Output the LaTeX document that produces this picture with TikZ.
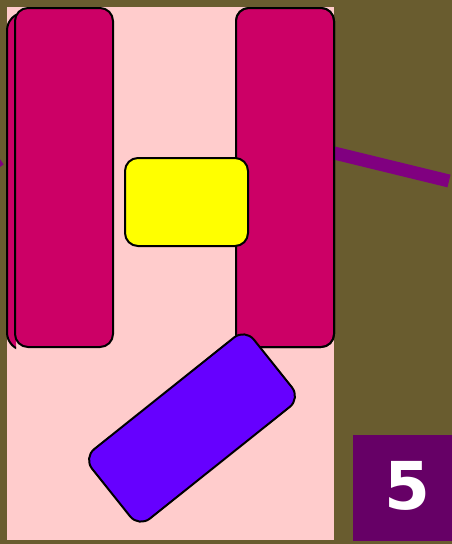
\documentclass[tikz,border=0pt]{standalone}
\usepackage{fontspec}
\setsansfont{DejaVu Sans}
\usepackage{tikz}
\usetikzlibrary{calc}
\definecolor{bg-olive}{HTML}{695C2F}
\definecolor{bg-pink}{HTML}{FFCCCC}
\definecolor{bar-magenta}{HTML}{CC0066}
\definecolor{box-yellow}{HTML}{FFFF00}
\definecolor{tile-violet}{HTML}{6600FF}
\definecolor{line-purple}{HTML}{800080}
\definecolor{badge-plum}{HTML}{660066}

\begin{document}
\begin{tikzpicture}[x=1pt, y=-1pt,
    panel/.style={draw=black, line width=2pt, rounded corners=13pt,
                  inner sep=0pt, outer sep=0pt, anchor=north west}]
    \useasboundingbox (0,0) rectangle (452,544);
    \fill[bg-olive] (0,0) rectangle (452,544);
    % stray bits of the purple line
    \begin{scope}
        \clip (0,0) rectangle (452,544);
        \draw[line-purple, line width=9pt] (-12,150) -- (0,167);
    \end{scope}
    \coordinate (lineend) at (449,181);
    \fill[bg-pink] (7,7) rectangle (334,540);
    % magenta bars
    \begin{scope}
        \clip (0,0) rectangle (16,544);
        \node[panel, fill=bar-magenta, rounded corners=18pt,
              minimum width=98pt, minimum height=338pt]
            (barback) at (7,12.5) {};
    \end{scope}
    \node[panel, fill=bar-magenta, minimum width=98pt, minimum height=339pt]
        (barleft) at (15,8) {};
    \node[panel, fill=bar-magenta, minimum width=98pt, minimum height=339pt]
        (barright) at (236,8) {};
    \draw[line-purple, line width=13pt] ($(barright.north east)+(-4pt,-144pt)$) -- (lineend);
    \node[panel, fill=bar-magenta, minimum width=98pt, minimum height=339pt]
        at (236,8) {};
    % yellow box
    \node[panel, fill=box-yellow, minimum width=123pt, minimum height=88pt]
        (midbox) at (125,158) {};
    % tilted tile
    \node[draw=black, line width=2pt, rounded corners=14pt, inner sep=0pt,
          outer sep=0pt, fill=tile-violet, minimum width=207pt, minimum height=89pt,
          rotate=38.6] (tile) at (192,428) {};
    % badge
    \fill[badge-plum] (353,435) rectangle (452,541);
    \node[text=white, font=\sffamily\bfseries\fontsize{66}{66}\selectfont]
        (badge) at (407,486) {5};
\end{tikzpicture}
\end{document}
